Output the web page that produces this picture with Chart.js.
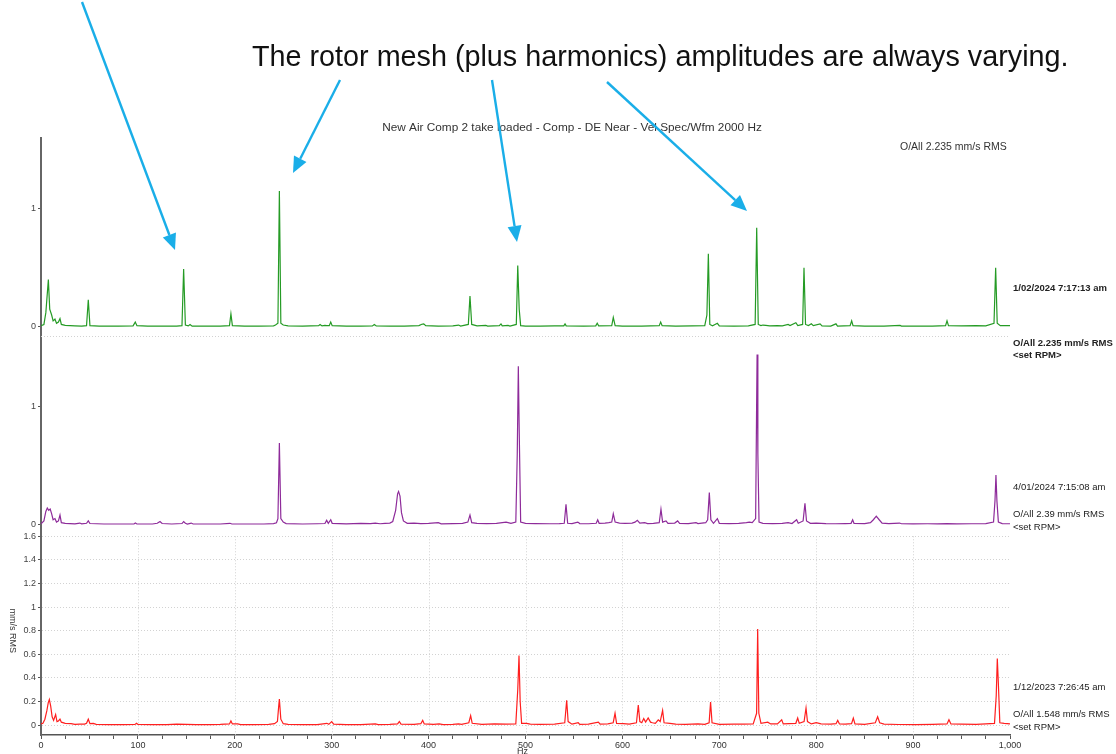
<!DOCTYPE html>
<html>
<head>
<meta charset="utf-8">
<title>New Air Comp 2 - Vel Spec waterfall</title>
<script src="https://cdn.jsdelivr.net/npm/chart.js@4.4.1/dist/chart.umd.min.js"></script>
<style>
    html, body { margin: 0; padding: 0; background: #fff; }
    #wrap { position: relative; width: 1116px; height: 754px; }
</style>
</head>
<body>
<div id="wrap"><canvas id="spectrumChart"></canvas></div>
<script>
// spectrum: frequency (Hz) and amplitude (mm/s RMS)
const greenHz = [0, 3, 5, 7.6, 9, 11, 12.5, 14.4, 16, 18, 19.6, 21, 25, 35, 42, 47, 48.8, 50.5, 60, 70, 80, 95, 97.3, 99, 110, 125, 140, 145.5, 147.2, 149, 152, 153.8, 156, 170, 185, 194.5, 196, 197.5, 210, 225, 240, 242, 244.5, 246, 247.5, 250, 255, 270, 286.5, 288, 290, 293, 295, 297.5, 299, 300.5, 315, 330, 342, 344, 346, 360, 375, 390, 393, 395, 397, 410, 425, 431, 433, 441, 442.7, 444.5, 450, 459, 461, 473, 474.7, 476, 482, 484, 490.5, 492, 493.5, 495, 500, 515, 530, 539.5, 540.8, 542, 560, 572.5, 574, 575.5, 589, 590.6, 592.5, 600, 620, 638, 639.5, 641, 655, 672, 685, 687.2, 688.7, 690.2, 693, 698, 700, 715, 730, 737, 738.6, 740.2, 743, 745, 748, 752, 760, 765, 771, 773, 779, 781, 786, 787.4, 789, 792, 795, 797, 804, 806, 815, 820.4, 822, 835, 836.6, 838, 850, 870, 886.5, 888, 905, 920, 933.5, 935, 936.5, 950, 965, 975, 983.5, 985.2, 986.8, 990, 1000];
const greenAmp = [0.01, 0.02, 0.12, 0.40, 0.15, 0.10, 0.05, 0.065, 0.03, 0.04, 0.07, 0.02, 0.012, 0.008, 0.006, 0.01, 0.23, 0.01, 0.006, 0.005, 0.006, 0.008, 0.04, 0.01, 0.005, 0.006, 0.006, 0.01, 0.49, 0.015, 0.008, 0.02, 0.006, 0.005, 0.006, 0.01, 0.11, 0.01, 0.005, 0.006, 0.008, 0.015, 0.03, 1.15, 0.03, 0.015, 0.008, 0.005, 0.01, 0.02, 0.008, 0.012, 0.01, 0.01, 0.04, 0.01, 0.005, 0.006, 0.008, 0.02, 0.008, 0.005, 0.006, 0.01, 0.022, 0.025, 0.01, 0.006, 0.008, 0.015, 0.006, 0.02, 0.26, 0.02, 0.008, 0.012, 0.006, 0.01, 0.025, 0.008, 0.012, 0.006, 0.02, 0.52, 0.15, 0.01, 0.006, 0.006, 0.008, 0.008, 0.025, 0.008, 0.006, 0.008, 0.03, 0.008, 0.01, 0.08, 0.01, 0.006, 0.006, 0.01, 0.04, 0.01, 0.006, 0.008, 0.01, 0.1, 0.62, 0.02, 0.008, 0.03, 0.008, 0.006, 0.008, 0.02, 0.84, 0.02, 0.01, 0.015, 0.012, 0.008, 0.01, 0.008, 0.02, 0.01, 0.035, 0.01, 0.02, 0.50, 0.02, 0.01, 0.025, 0.01, 0.025, 0.008, 0.006, 0.025, 0.006, 0.01, 0.05, 0.01, 0.006, 0.005, 0.012, 0.006, 0.005, 0.006, 0.01, 0.05, 0.01, 0.008, 0.01, 0.008, 0.03, 0.50, 0.03, 0.01, 0.01];

const purpleHz = [0, 3, 5, 6.5, 8, 9.5, 11, 12.5, 14.4, 16, 18, 19.6, 21, 25, 35, 40, 42, 47, 48.8, 50.5, 65, 80, 96, 97.3, 99, 115, 120, 122.8, 125, 135, 145.5, 147.2, 149, 151, 155, 157, 170, 185, 195, 197, 215, 230, 240, 243, 244.5, 246, 247.5, 250, 253, 270, 285, 293, 294.8, 296.5, 299, 300.5, 315, 330, 340, 345, 350, 355, 360, 363, 366, 368, 369, 370.5, 372, 374, 378, 385, 392, 400, 410, 413, 425, 435, 440.5, 442.7, 444.5, 450, 460, 470, 480, 485, 490, 491.5, 492.6, 493.5, 495, 500, 510, 525, 535, 540, 541.8, 543.5, 548, 554, 556, 565, 573, 574.5, 576, 582, 586, 589, 590.6, 592.5, 597, 603, 610, 613, 615.4, 618, 623, 626, 632, 638, 639.8, 641.5, 645, 647, 654, 657, 659, 668, 676, 678, 686, 688, 689.7, 691.3, 694, 698, 700, 710, 720, 728, 731, 734, 737.5, 738.4, 739, 739.8, 741, 745, 755, 765, 771, 775, 779.8, 781.5, 786.5, 788.4, 790, 794, 800, 810, 820, 830, 836, 837.6, 839, 850, 856, 859, 862, 865, 868, 875, 886, 888, 900, 915, 925, 935, 945, 960, 975, 983, 984.5, 985.5, 986.5, 988, 992, 1000];
const purpleAmp = [0.005, 0.03, 0.11, 0.14, 0.12, 0.13, 0.09, 0.04, 0.05, 0.02, 0.03, 0.08, 0.015, 0.01, 0.005, 0.012, 0.005, 0.01, 0.03, 0.008, 0.004, 0.004, 0.005, 0.012, 0.004, 0.004, 0.01, 0.025, 0.008, 0.004, 0.008, 0.025, 0.01, 0.004, 0.012, 0.004, 0.004, 0.004, 0.01, 0.004, 0.004, 0.004, 0.008, 0.015, 0.05, 0.69, 0.05, 0.02, 0.008, 0.004, 0.006, 0.008, 0.035, 0.01, 0.04, 0.01, 0.005, 0.01, 0.008, 0.012, 0.006, 0.01, 0.012, 0.025, 0.12, 0.26, 0.28, 0.24, 0.1, 0.03, 0.01, 0.012, 0.008, 0.01, 0.015, 0.005, 0.008, 0.01, 0.02, 0.08, 0.015, 0.01, 0.008, 0.01, 0.02, 0.01, 0.02, 0.6, 1.34, 0.8, 0.02, 0.01, 0.008, 0.006, 0.008, 0.01, 0.17, 0.01, 0.008, 0.02, 0.008, 0.006, 0.01, 0.04, 0.01, 0.012, 0.015, 0.02, 0.09, 0.02, 0.012, 0.01, 0.012, 0.02, 0.035, 0.012, 0.015, 0.008, 0.01, 0.015, 0.13, 0.02, 0.03, 0.01, 0.012, 0.03, 0.01, 0.008, 0.015, 0.008, 0.015, 0.04, 0.27, 0.04, 0.01, 0.05, 0.01, 0.008, 0.01, 0.015, 0.02, 0.015, 0.05, 0.9, 1.44, 0.6, 0.02, 0.01, 0.008, 0.01, 0.015, 0.008, 0.04, 0.01, 0.03, 0.18, 0.03, 0.01, 0.012, 0.008, 0.006, 0.008, 0.01, 0.04, 0.01, 0.008, 0.015, 0.04, 0.07, 0.04, 0.012, 0.008, 0.012, 0.006, 0.005, 0.006, 0.005, 0.008, 0.005, 0.006, 0.008, 0.02, 0.2, 0.42, 0.2, 0.02, 0.008, 0.006];

const redHz = [0, 2, 4, 6, 7.5, 8.6, 10, 11.5, 13, 15.1, 16.5, 18, 19.6, 21, 25, 31, 35, 40, 45, 47, 48.8, 50.5, 54, 57, 70, 85, 97, 98.6, 100, 115, 130, 140, 150, 160, 175, 185, 194.5, 196, 197.5, 203, 206, 220, 235, 241, 244, 245.2, 246, 247.5, 250, 255, 270, 285, 295, 297, 300, 302, 315, 330, 345, 348, 360, 368, 369.8, 371.5, 385, 392, 393.9, 395.5, 405, 411, 415, 425, 431, 434, 441.5, 443.4, 445, 455, 468, 480, 490, 492, 493.3, 494.5, 496, 501, 505, 515, 530, 540.5, 542.5, 544, 548, 554.4, 556, 565, 575.2, 577, 585, 590.5, 592.4, 594, 601, 607, 614.5, 616.4, 618, 620, 622, 624, 626.6, 629, 631, 634, 637, 639, 641.5, 643, 649, 655, 665, 678, 685, 689.5, 691, 692.5, 700, 715, 725, 735, 738.5, 739.6, 740.8, 743, 750, 753, 760, 764.4, 766, 772, 779, 780.9, 782.5, 787.5, 789.5, 791, 795, 800, 805, 815, 820.5, 822.2, 824, 830, 836.5, 838.3, 840, 850, 861, 863.4, 865.5, 870, 885, 903, 920, 935, 937, 939, 950, 965, 975, 984, 985.8, 986.9, 988, 989.5, 994, 1000];
const redAmp = [0.01, 0.015, 0.05, 0.12, 0.19, 0.216, 0.16, 0.07, 0.04, 0.09, 0.03, 0.035, 0.05, 0.025, 0.015, 0.012, 0.006, 0.008, 0.008, 0.015, 0.05, 0.012, 0.015, 0.006, 0.004, 0.004, 0.006, 0.015, 0.005, 0.004, 0.004, 0.008, 0.006, 0.004, 0.004, 0.006, 0.01, 0.035, 0.01, 0.01, 0.004, 0.004, 0.006, 0.012, 0.03, 0.15, 0.22, 0.05, 0.012, 0.006, 0.004, 0.004, 0.015, 0.006, 0.03, 0.008, 0.004, 0.004, 0.01, 0.004, 0.006, 0.01, 0.03, 0.008, 0.006, 0.012, 0.04, 0.01, 0.006, 0.01, 0.004, 0.006, 0.01, 0.006, 0.02, 0.08, 0.015, 0.006, 0.01, 0.008, 0.01, 0.3, 0.59, 0.2, 0.015, 0.015, 0.008, 0.006, 0.008, 0.02, 0.21, 0.03, 0.008, 0.02, 0.006, 0.008, 0.025, 0.008, 0.01, 0.02, 0.1, 0.015, 0.012, 0.008, 0.02, 0.17, 0.03, 0.02, 0.055, 0.025, 0.06, 0.025, 0.02, 0.015, 0.045, 0.03, 0.125, 0.02, 0.015, 0.008, 0.006, 0.01, 0.006, 0.02, 0.195, 0.02, 0.006, 0.008, 0.008, 0.01, 0.1, 0.815, 0.1, 0.015, 0.025, 0.01, 0.01, 0.045, 0.01, 0.012, 0.015, 0.06, 0.015, 0.03, 0.145, 0.03, 0.01, 0.02, 0.01, 0.008, 0.012, 0.04, 0.01, 0.008, 0.012, 0.06, 0.01, 0.006, 0.02, 0.07, 0.02, 0.008, 0.005, 0.004, 0.006, 0.01, 0.045, 0.01, 0.008, 0.006, 0.01, 0.015, 0.25, 0.565, 0.35, 0.02, 0.015, 0.01];

const xMajorTicks = [0, 100, 200, 300, 400, 500, 600, 700, 800, 900, 1000];
const redAxisTicks = [0, 0.2, 0.4, 0.6, 0.8, 1, 1.2, 1.4, 1.6];
const upperAxisTicks = [0, 1];

const seriesDates = ['1/02/2024 7:17:13 am', '4/01/2024 7:15:08 am', '1/12/2023 7:26:45 am'];
const seriesOverall = ['O/All 2.235 mm/s RMS', 'O/All 2.39 mm/s RMS', 'O/All 1.548 mm/s RMS'];

const headline = 'The rotor mesh (plus harmonics) amplitudes are always varying.';
const chartTitle = 'New Air Comp 2 take loaded - Comp - DE Near - Vel Spec/Wfm 2000 Hz';
const overallTop = 'O/All 2.235 mm/s RMS';

const FONT = "'Liberation Sans', Arial, sans-serif";

function toPoints(hz, amp) {
    return hz.map((f, i) => ({ x: f, y: amp[i] }));
}

function fixWidth(w) {
    return function (scale) { scale.width = w; };
}

function yAxis(min, max, weight, ticks, showGrid) {
    return {
        type: 'linear',
        position: 'left',
        stack: 'waterfall',
        stackWeight: weight,
        min: min,
        max: max,
        afterBuildTicks: function (scale) {
            scale.ticks = ticks.map(v => ({ value: v }));
        },
        afterFit: fixWidth(41),
        ticks: {
            autoSkip: false,
            color: '#444',
            padding: 2,
            font: { family: FONT, size: 9 },
            callback: v => String(+v.toFixed(2))
        },
        grid: {
            drawOnChartArea: showGrid,
            color: '#d2d2d2',
            tickColor: '#555',
            tickLength: 3
        },
        border: { display: true, color: '#666', width: 2, dash: [1, 2] }
    };
}

// dotted grid in the bottom pane, pane separator, texts and the blue arrows
const overlayPlugin = {
    id: 'overlay',
    beforeDatasetsDraw(chart) {
        const { ctx, scales: { x, yRed, yGreen } } = chart;
        ctx.save();
        ctx.strokeStyle = '#d2d2d2';
        ctx.lineWidth = 1;
        ctx.setLineDash([1, 2]);
        const top = yRed.getPixelForValue(redAxisTicks[redAxisTicks.length - 1]);
        xMajorTicks.slice(1, -1).forEach(v => {
            const px = Math.round(x.getPixelForValue(v)) + 0.5;
            ctx.beginPath();
            ctx.moveTo(px, top);
            ctx.lineTo(px, yRed.bottom);
            ctx.stroke();
        });
        const gy = Math.round(yGreen.bottom) + 0.5;
        ctx.beginPath();
        ctx.moveTo(x.left, gy);
        ctx.lineTo(x.right, gy);
        ctx.stroke();
        ctx.restore();
    },
    afterDraw(chart) {
        const { ctx, scales: { x, yRed, yPurple, yGreen } } = chart;
        ctx.save();
        ctx.textBaseline = 'alphabetic';

        ctx.fillStyle = '#111';
        ctx.font = '28.75px ' + FONT;
        ctx.fillText(headline, 252, 66);

        ctx.fillStyle = '#333';
        ctx.font = '11.8px ' + FONT;
        ctx.textAlign = 'center';
        ctx.fillText(chartTitle, 572, 131);
        ctx.font = '10.5px ' + FONT;
        ctx.textAlign = 'left';
        ctx.fillText(overallTop, 900, 150);

        // side labels, placed from each pane's zero line
        const panes = [
            { scale: yGreen, bold: true, date: -36, all: 19, rpm: 31 },
            { scale: yPurple, bold: false, date: -34.5, all: -7.5, rpm: 5.5 },
            { scale: yRed, bold: false, date: -35, all: -8, rpm: 5 }
        ];
        const lx = x.right + 3;
        panes.forEach((p, i) => {
            const zero = p.scale.getPixelForValue(0);
            ctx.fillStyle = '#222';
            ctx.font = (p.bold ? 'bold ' : '') + '9.5px ' + FONT;
            ctx.fillText(seriesDates[i], lx, zero + p.date);
            ctx.fillText(seriesOverall[i], lx, zero + p.all);
            ctx.fillText('<set RPM>', lx, zero + p.rpm);
        });

        // axis titles
        ctx.fillStyle = '#333';
        ctx.font = '9px ' + FONT;
        ctx.textAlign = 'center';
        ctx.fillText('Hz', x.getPixelForValue(497), 754);
        ctx.save();
        ctx.translate(10, yRed.getPixelForValue(0.8));
        ctx.rotate(Math.PI / 2);
        ctx.fillText('mm/s RMS', 0, 0);
        ctx.restore();

        // callout arrows
        const arrows = [
            [82, 2, 175, 250],
            [340, 80, 293, 173],
            [492, 80, 517, 242],
            [607, 82, 747, 211]
        ];
        ctx.strokeStyle = '#1aaee8';
        ctx.fillStyle = '#1aaee8';
        ctx.lineWidth = 2.4;
        arrows.forEach(([x1, y1, x2, y2]) => {
            const ang = Math.atan2(y2 - y1, x2 - x1);
            const len = 16, half = 7;
            const bx = x2 - len * Math.cos(ang), by = y2 - len * Math.sin(ang);
            ctx.beginPath();
            ctx.moveTo(x1, y1);
            ctx.lineTo(bx, by);
            ctx.stroke();
            ctx.beginPath();
            ctx.moveTo(x2, y2);
            ctx.lineTo(bx + half * Math.sin(ang), by - half * Math.cos(ang));
            ctx.lineTo(bx - half * Math.sin(ang), by + half * Math.cos(ang));
            ctx.closePath();
            ctx.fill();
        });
        ctx.restore();
    }
};

function drawSpectrum() {
    const ctx = document.getElementById('spectrumChart').getContext('2d');

    return new Chart(ctx, {
        type: 'line',
        data: {
            datasets: [
                {
                    label: seriesDates[2],
                    data: toPoints(redHz, redAmp),
                    yAxisID: 'yRed',
                    borderColor: '#ff1f1f',
                    borderWidth: 1.2
                },
                {
                    label: seriesDates[1],
                    data: toPoints(purpleHz, purpleAmp),
                    yAxisID: 'yPurple',
                    borderColor: '#8e2b9a',
                    borderWidth: 1.2
                },
                {
                    label: seriesDates[0],
                    data: toPoints(greenHz, greenAmp),
                    yAxisID: 'yGreen',
                    borderColor: '#259b25',
                    borderWidth: 1.2
                }
            ]
        },
        options: {
            responsive: true,
            maintainAspectRatio: false,
            animation: false,
            events: [],
            elements: {
                point: { radius: 0 },
                line: { tension: 0, fill: false }
            },
            layout: {
                padding: { top: 138, right: 106, left: 0, bottom: 0 }
            },
            plugins: {
                legend: { display: false },
                tooltip: { enabled: false },
                title: { display: false }
            },
            scales: {
                x: {
                    type: 'linear',
                    min: 0,
                    max: 1000,
                    afterFit: function (scale) { scale.height = 19; },
                    ticks: {
                        stepSize: 25,
                        autoSkip: false,
                        maxRotation: 0,
                        padding: 1,
                        color: '#333',
                        font: { family: FONT, size: 9 },
                        callback: v => xMajorTicks.includes(v) ? v.toLocaleString('en-US') : ''
                    },
                    grid: {
                        drawOnChartArea: false,
                        tickColor: '#555',
                        tickLength: 4
                    },
                    border: { color: '#555', width: 1.5 }
                },
                yRed: yAxis(-0.084, 1.66, 1.744, redAxisTicks, true),
                yPurple: yAxis(-0.04, 1.6, 1.64, upperAxisTicks, false),
                yGreen: yAxis(-0.075, 1.6, 1.675, upperAxisTicks, false)
            }
        },
        plugins: [overlayPlugin]
    });
}

document.addEventListener('DOMContentLoaded', function () {
    drawSpectrum();
});
</script>
</body>
</html>
